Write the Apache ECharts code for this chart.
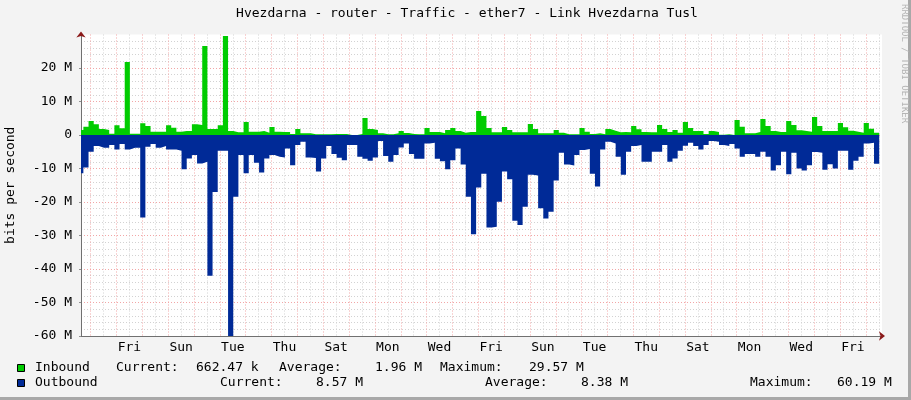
<!DOCTYPE html>
<html><head><meta charset="utf-8">
<script src="https://cdn.jsdelivr.net/npm/echarts@6/dist/echarts.min.js"></script>
<style>html,body{margin:0;padding:0;background:#f3f3f3;}#c{width:911px;height:400px;}</style>
</head><body><div id="c"></div>
<script>
const TITLE = 'Hvezdarna - router - Traffic - ether7 - Link Hvezdarna Tusl';
const Y_NAME = 'bits per second';
const WATERMARK = 'RRDTOOL / TOBI OETIKER';
// time in hours relative to the first Thursday 00:00
const X_START = -9, X_END = 735;
const BUCKET_START = -11.6, BUCKET_HOURS = 4.8;
const xLabels = ['Fri','Sun','Tue','Thu','Sat','Mon','Wed','Fri','Sun','Tue','Thu','Sat','Mon','Wed','Fri'];
const xLabelHours = [36,84,132,180,228,276,324,372,420,468,516,564,612,660,708];
// Mbit/s per bucket
const inbound = [
1.5,2.5,4.2,3.2,1.8,1.5,0.4,2.9,2.0,21.8,0.4,0.4,3.5,2.7,1.0,1.0,1.0,2.9,2.2,1.0,
1.2,1.2,3.2,3.0,26.6,1.8,1.8,2.9,29.57,1.2,0.8,0.8,3.9,1.0,1.0,1.2,0.7,2.4,1.0,0.9,
0.9,0.3,1.8,0.5,0.5,0.2,0.2,0.2,0.2,0.3,0.3,0.3,0.0,0.0,0.3,5.1,1.8,1.5,0.5,0.2,
0.2,0.5,1.2,0.6,0.3,0.2,0.2,2.1,0.9,0.9,0.5,1.5,2.1,1.2,0.7,0.9,0.9,7.2,5.7,2.1,
0.8,0.8,2.4,1.5,0.8,0.8,0.8,3.3,1.8,0.5,0.5,0.5,1.5,0.7,0.2,0.2,0.2,2.1,1.0,0.3,
0.5,0.2,1.8,1.3,0.8,0.9,0.8,2.7,1.7,0.9,0.8,0.8,3.0,1.8,0.9,1.5,0.7,3.9,2.1,1.2,
1.2,0.3,1.2,0.9,0.1,0.2,0.0,4.5,2.5,0.5,0.5,0.9,4.8,2.7,1.2,0.9,0.9,4.2,3.0,1.4,
1.2,1.0,5.4,2.7,1.2,1.2,1.2,3.6,2.3,1.3,1.0,0.7,3.6,1.9,0.66
];
const outbound = [
11.4,9.7,5.0,3.3,3.8,3.8,3.0,4.3,2.7,4.3,3.8,3.8,24.6,3.5,2.7,3.8,3.3,4.3,4.3,4.7,
10.2,7.0,6.0,8.5,8.0,42.0,17.0,4.7,4.7,60.19,18.4,6.0,11.4,6.0,8.3,11.2,7.0,6.0,6.5,6.7,
4.0,9.0,3.0,2.0,6.7,6.9,10.9,7.0,3.3,5.7,6.8,7.5,3.0,3.0,6.5,7.1,7.7,6.7,1.8,6.3,
8.0,6.0,3.7,2.5,5.7,7.1,7.1,2.5,2.3,7.1,7.8,10.2,7.5,4.0,8.8,18.4,29.6,15.7,11.6,27.6,
27.4,19.9,10.9,13.2,25.6,26.9,21.4,11.9,12.1,21.9,24.9,22.9,13.6,5.3,8.8,9.1,6.0,4.5,4.2,11.6,
15.4,4.3,2.0,2.5,6.5,11.9,5.0,3.3,3.0,8.0,8.0,5.0,5.0,3.0,8.0,7.0,4.7,3.2,2.3,3.3,
4.3,3.0,1.8,2.0,3.0,3.3,2.7,4.0,6.5,5.7,5.7,6.5,5.0,6.5,10.6,9.0,5.0,11.7,5.3,10.0,
10.6,9.0,5.1,5.3,10.4,8.7,10.0,4.7,4.7,10.4,7.7,6.5,2.5,2.3,8.57
];
const legendNames = ['Inbound','Outbound'];
const inStats = [['Current:','662.47 k'],['Average:','1.96 M'],['Maximum:','29.57 M']];
const outStats = [['Current:','8.57 M'],['Average:','8.38 M'],['Maximum:','60.19 M']];

const IN_COLOR = '#00cc00', OUT_COLOR = '#002a97';
const FONT = 'DejaVu Sans Mono';
const MAJOR = '#f2a6a6', MINOR = '#d2d2d2';

function toPoints(vals, sign) {
  const pts = vals.map((v, i) => [BUCKET_START + i * BUCKET_HOURS, sign * v]);
  pts.push([BUCKET_START + vals.length * BUCKET_HOURS, sign * vals[vals.length - 1]]);
  return pts;
}
const hourCats = [];
for (let h = X_START; h <= X_END; h++) hourCats.push(String(h));

function txt(x, y, s, extra) {
  return Object.assign({ type: 'text', x: x, y: y, silent: true,
    style: { text: s, fill: '#000', font: '13px "' + FONT + '"', textVerticalAlign: 'middle' } }, extra || {});
}
const graphics = [
  { type: 'rect', shape: { x: 908, y: 0, width: 3, height: 400 }, style: { fill: '#a8a8a8' }, silent: true },
  { type: 'rect', shape: { x: 0, y: 397, width: 911, height: 3 }, style: { fill: '#a8a8a8' }, silent: true },
  txt(467, 14, TITLE),
  { type: 'text', x: 900, y: 4, rotation: -Math.PI / 2, silent: true,
    style: { text: WATERMARK, fill: '#b4b4b4', font: '9px "' + FONT + '"', textVerticalAlign: 'bottom' } },
  { type: 'rect', shape: { x: 17.5, y: 364.5, width: 7, height: 7 }, style: { fill: IN_COLOR, stroke: '#000', lineWidth: 1 }, silent: true },
  { type: 'rect', shape: { x: 17.5, y: 379.5, width: 7, height: 7 }, style: { fill: OUT_COLOR, stroke: '#000', lineWidth: 1 }, silent: true },
  txt(35, 368, legendNames[0]), txt(35, 383, legendNames[1])
];
graphics[2].style.textAlign = 'center';
const row1X = [116, 196, 279, 375, 440, 529];
const row2X = [220, 316, 485, 581, 750, 837];
inStats.forEach((p, i) => { graphics.push(txt(row1X[2*i], 368, p[0])); graphics.push(txt(row1X[2*i+1], 368, p[1])); });
outStats.forEach((p, i) => { graphics.push(txt(row2X[2*i], 383, p[0])); graphics.push(txt(row2X[2*i+1], 383, p[1])); });

const chart = echarts.init(document.getElementById('c'));
chart.setOption({
  animation: false,
  backgroundColor: '#f3f3f3',
  grid: { left: 81, right: 29, top: 34.5, bottom: 64, show: true, backgroundColor: '#ffffff', borderWidth: 0, containLabel: false, outerBoundsMode: 'none' },
  xAxis: [
    { type: 'value', min: X_START, max: X_END, position: 'bottom',
      axisLine: { show: true, onZero: false, symbol: ['none', 'arrow'], symbolSize: [7, 6], symbolOffset: [0, 3], lineStyle: { color: '#8b1a1a', width: 0 } },
      axisLabel: { show: false }, axisTick: { show: false }, splitLine: { show: false } },
    { type: 'category', data: hourCats, boundaryGap: false, position: 'bottom',
      axisLine: { show: true, onZero: false, lineStyle: { color: '#707070', width: 1 } },
      axisTick: { show: false },
      axisLabel: { interval: (i, v) => xLabelHours.indexOf(+v) >= 0,
        formatter: (v) => { const k = xLabelHours.indexOf(+v); return k >= 0 ? xLabels[k] : ''; },
        fontFamily: FONT, fontSize: 13, color: '#000', margin: 5 },
      splitLine: { show: true, interval: (i, v) => (+v) % 12 === 0,
        lineStyle: { color: [MAJOR, MINOR], type: [1, 2], width: 1 } } }
  ],
  yAxis: [
    { type: 'value', min: -60, max: 30, interval: 10, position: 'left',
      name: Y_NAME, nameLocation: 'middle', nameGap: 64,
      nameTextStyle: { fontFamily: FONT, fontSize: 13, color: '#000' },
      axisLine: { show: true, onZero: false, lineStyle: { color: '#707070', width: 1 } },
      axisTick: { show: true, length: 2, lineStyle: { color: '#909090' } },
      axisLabel: { formatter: (v) => v === 30 ? '' : (v === 0 ? '0' : v + ' M'),
        fontFamily: FONT, fontSize: 13, color: '#000', margin: 9 },
      splitLine: { show: true, showMaxLine: false, showMinLine: false, lineStyle: { color: MAJOR, type: [1, 2], width: 1 } },
      minorTick: { show: false, splitNumber: 5 },
      minorSplitLine: { show: true, lineStyle: { color: MINOR, type: [1, 2], width: 1 } } },
    { type: 'value', min: 0, max: 1, position: 'left',
      axisLine: { show: true, onZero: false, symbol: ['none', 'arrow'], symbolSize: [7, 6], symbolOffset: [0, 3], lineStyle: { color: '#8b1a1a', width: 0 } },
      axisLabel: { show: false }, axisTick: { show: false }, splitLine: { show: false } }
  ],
  series: [
    { type: 'line', name: legendNames[0], xAxisIndex: 0, yAxisIndex: 0, step: 'end', symbol: 'none', silent: true,
      lineStyle: { width: 0 }, areaStyle: { color: IN_COLOR, opacity: 1 }, data: toPoints(inbound, 1) },
    { type: 'line', name: legendNames[1], xAxisIndex: 0, yAxisIndex: 0, step: 'end', symbol: 'none', silent: true,
      lineStyle: { width: 0 }, areaStyle: { color: OUT_COLOR, opacity: 1 }, data: toPoints(outbound, -1) }
  ],
  graphic: graphics
});
</script></body></html>
